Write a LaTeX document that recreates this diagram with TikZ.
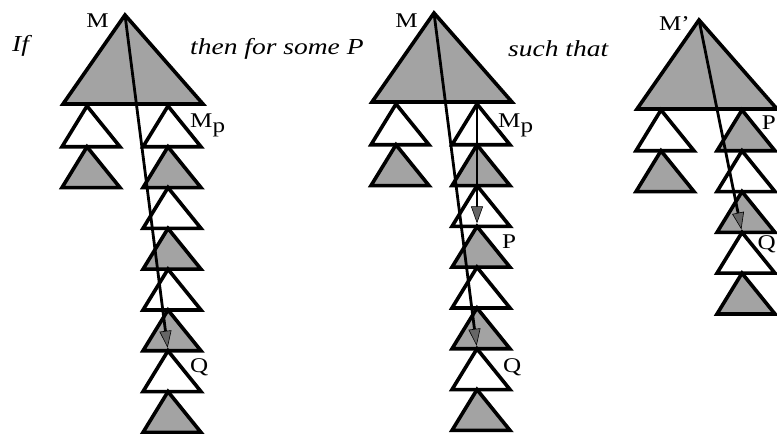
\documentclass[tikz,border=0pt]{standalone}
\usepackage{fontspec}
\setmainfont{Liberation Serif}[FakeStretch=1.2]
\usetikzlibrary{arrows.meta}

\tikzset{
  tree/.style={line width=3.6bp},
  plaintree/.style={tree, fill=white},
  shadedtree/.style={tree, fill=black!36},
  lbl/.style={font=\fontsize{21}{21}\selectfont, inner sep=0pt},
  caption/.style={font=\fontsize{23}{23}\selectfont\itshape, inner sep=0pt},
  route/.style={line width=2.8bp, shorten >=3bp,
    -{Triangle[length=17bp,width=12bp,fill=black!60,line width=0.6bp]}}
}
% #1 = x of base centre, #2 = y of apex, #3 = style
\newcommand{\bigtree}[3]{\draw[#3] (#1-8,#2) -- (#1+70,#2+89) -- (#1-70,#2+89) -- cycle;}
\newcommand{\subtree}[3]{\draw[#3] (#1-4,#2) -- (#1+29,#2+40.8) -- (#1-29,#2+40.8) -- cycle;}

\begin{document}
\begin{tikzpicture}[x=1bp,y=-1bp]
\useasboundingbox (0,0) rectangle (777,434);

% texts
\node[caption, anchor=base west] (if) at (12,52) {If};
\node[caption, anchor=base west] (then) at (190,55) {then for some P};
\node[caption, anchor=base west] (such) at (508,57) {such that};

% first tree
\bigtree{133}{15}{shadedtree}
\subtree{91}{106}{plaintree}
\subtree{91}{146.8}{shadedtree}
\foreach \k in {0,...,7} {
  \pgfmathsetmacro\ytop{106+40.8*\k}
  \ifodd\k \subtree{172}{\ytop}{shadedtree} \else \subtree{172}{\ytop}{plaintree} \fi
}
\coordinate (M1) at (125,15);
\coordinate (Q1) at (168,350.8);
\node[lbl, anchor=base east] (M1lbl) at (109,28) {M};
\node[lbl, anchor=base west] (Mp1lbl) at (190,128) {M\raisebox{-5bp}{p}};
\node[lbl, anchor=base west] (Q1lbl) at (190,373) {Q};
\draw[route] (M1) -- (Q1);

% second tree
\bigtree{442}{13}{shadedtree}
\subtree{400}{104}{plaintree}
\subtree{400}{144.8}{shadedtree}
\foreach \k in {0,...,7} {
  \pgfmathsetmacro\ytop{104+40.8*\k}
  \ifodd\k \subtree{481}{\ytop}{shadedtree} \else \subtree{481}{\ytop}{plaintree} \fi
}
\coordinate (M2) at (434,13);
\coordinate (Mp2) at (477,104);
\coordinate (P2) at (477,226.4);
\coordinate (Q2) at (477,348.8);
\node[lbl, anchor=base east] (M2lbl) at (418,28) {M};
\node[lbl, anchor=base west] (Mp2lbl) at (498,128) {M\raisebox{-5bp}{p}};
\node[lbl, anchor=base west] (P2lbl) at (502,249) {P};
\node[lbl, anchor=base west] (Q2lbl) at (503,373) {Q};
\draw[route] (M2) -- (Q2);
\draw[route] (Mp2) -- (P2);

% third tree
\bigtree{707}{20}{shadedtree}
\subtree{665}{110}{plaintree}
\subtree{665}{150.8}{shadedtree}
\foreach \k in {0,...,4} {
  \pgfmathsetmacro\ytop{110+40.8*\k}
  \ifodd\k \subtree{746}{\ytop}{plaintree} \else \subtree{746}{\ytop}{shadedtree} \fi
}
\coordinate (M3) at (699,20);
\coordinate (Q3) at (742,232.4);
\node[lbl, anchor=base east] (M3lbl) at (690,31) {M'};
\node[lbl, anchor=base east] (P3lbl) at (776,130) {P};
\node[lbl, anchor=base east] (Q3lbl) at (776,250) {Q};
\draw[route] (M3) -- (Q3);
\end{tikzpicture}
\end{document}
